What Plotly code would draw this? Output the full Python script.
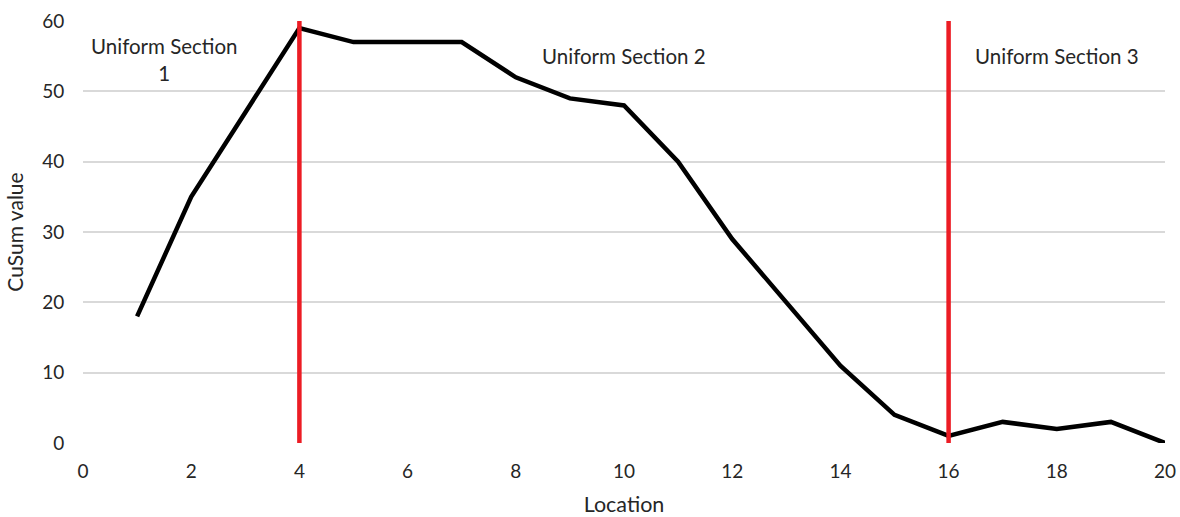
import plotly.graph_objects as go

location = list(range(1, 21))
cusum = [18, 35, 47, 59, 57, 57, 57, 52, 49, 48, 40, 29, 20, 11, 4, 1, 3, 2, 3, 0]
boundaries = [4, 16]
y_span = [0, 60]
section_labels = ["Uniform Section<br>1", "Uniform Section 2", "Uniform Section 3"]
label_x = [1.5, 10, 18]
label_y = [54.5, 55, 55]

FONT = "Lato, Carlito, Calibri, sans-serif"

fig = go.Figure()
fig.add_trace(go.Scatter(x=location, y=cusum, mode="lines",
                         line=dict(color="black", width=4.5), showlegend=False))
for b in boundaries:
    fig.add_trace(go.Scatter(x=[b, b], y=y_span, mode="lines",
                             line=dict(color="#ec1c24", width=4.5), showlegend=False))

for t, xx, yy in zip(section_labels, label_x, label_y):
    fig.add_annotation(x=xx, y=yy, text=t, showarrow=False,
                       font=dict(family=FONT, size=20.5, color="#262626"))

fig.update_layout(
    width=1180, height=517,
    margin=dict(l=83, r=15, t=21, b=74),
    plot_bgcolor="white", paper_bgcolor="white",
    font=dict(family=FONT, size=19, color="#262626"),
)
fig.update_xaxes(range=[0, 20], dtick=2, showgrid=False, zeroline=False,
                 showline=False, ticks="outside", ticklen=11, tickcolor="rgba(0,0,0,0)",
                 tickfont=dict(size=19), automargin=False, ticklabeloverflow="allow",
                 title=dict(text="Location", font=dict(size=21.5), standoff=21))
fig.update_yaxes(range=[0, 60], dtick=10, showgrid=True, gridcolor="#d9d9d9",
                 gridwidth=1.5, zeroline=False, showline=False,
                 ticks="outside", ticklen=14, tickcolor="rgba(0,0,0,0)",
                 tickfont=dict(size=19), automargin=False,
                 title=dict(text="CuSum value", font=dict(size=21), standoff=12))

fig.write_html(
    "out.html",
    config={"displayModeBar": False},
    post_script=("document.documentElement.style.margin='0';"
                 "document.body.style.margin='0';"
                 "document.documentElement.style.overflow='hidden';"
                 "document.body.style.overflow='hidden';"),
)
